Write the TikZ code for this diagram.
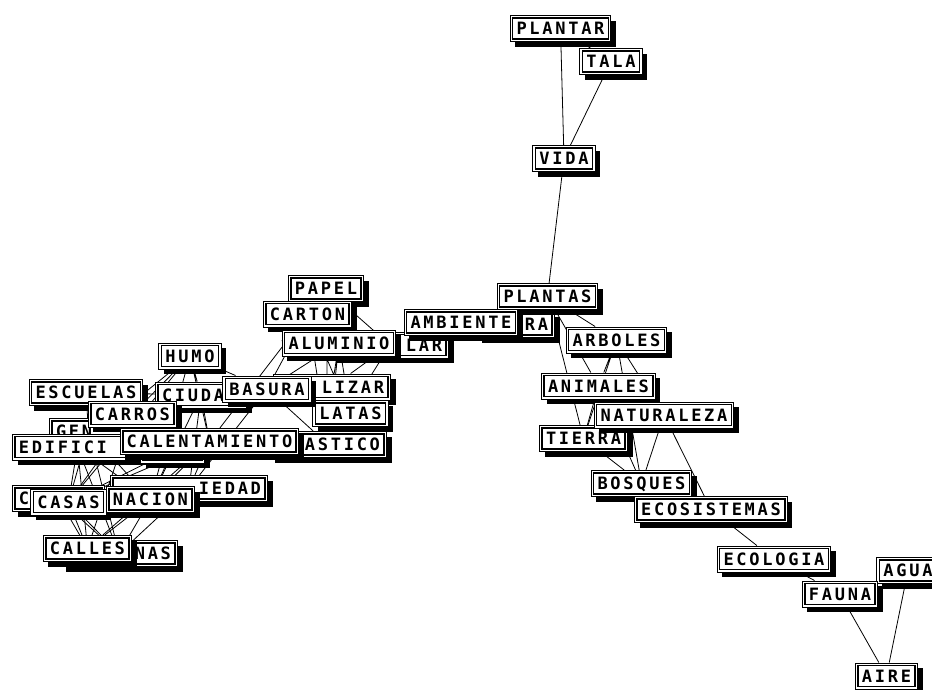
\documentclass[tikz,border=0pt]{standalone}
\usepackage{fontspec}
\newfontfamily\termfont[LetterSpace=16]{DejaVu Sans Mono}
\usetikzlibrary{shadows,backgrounds}

\tikzset{
  term/.style={draw=black, line width=1pt, fill=white,
    font=\termfont\bfseries\fontsize{17}{17}\selectfont,
    inner xsep=6.5pt, inner ysep=0pt, minimum height=26pt,
    text height=12.4pt, text depth=0pt,
    path picture={\draw[line width=1.5pt]
      ([shift={(2.6pt,-2.6pt)}]path picture bounding box.north west) rectangle
      ([shift={(-2.6pt,2.6pt)}]path picture bounding box.south east);},
    drop shadow={shadow xshift=5pt, shadow yshift=-5pt, opacity=1, fill=black}},
  lcut/.style={term, text width=#1, align=left},
  rcut/.style={term, text width=#1, align=right},
  link/.style={line width=0.8pt}
}

\begin{document}
\begin{tikzpicture}[x=1pt, y=-1pt]
\useasboundingbox (0,0) rectangle (932,689);
% --- nodi ---
\node[term] (plantar) at (560.5,28.5) {PLANTAR};
\node[term] (tala) at (611,61.5) {TALA};
\node[term] (vida) at (564,158.5) {VIDA};
\node[rcut=65pt] (flora) at (515.5,324.5) {RA};
\node[term] (plantas) at (547.5,296.5) {PLANTAS};
\node[rcut=104pt] (reciclar) at (390,345) {LAR};
\node[term] (ambiente) at (461,322.5) {AMBIENTE};
\node[term] (papel) at (326,288.5) {PAPEL};
\node[term] (carton) at (307.5,314) {CARTON};
\node[term] (aluminio) at (339,343) {ALUMINIO};
\node[rcut=104pt] (utilizar) at (332,387) {LIZAR};
\node[term] (latas) at (350.5,413.5) {LATAS};
\node[rcut=104pt] (plastico) at (328,444.5) {ASTICO};
\node[term] (humo) at (190,356) {HUMO};
\node[term] (escuelas) at (86,392.5) {ESCUELAS};
\node[lcut=78pt] (ciudad) at (201,395) {CIUDA};
\node[term] (basura) at (267,389) {BASURA};
\node[lcut=65pt] (gente) at (88.5,431.5) {GEN};
\node[term] (carros) at (132.5,414) {CARROS};
\node[lcut=117pt] (edificios) at (77.5,447) {EDIFICI};
\node[term, minimum width=64pt] (oculto) at (172.5,450) {};
\node[term] (calent) at (209.5,441.5) {CALENTAMIENTO};
\node[rcut=144pt] (sociedad) at (189,488.5) {IEDAD};
\node[lcut=79pt] (contam) at (58.5,498.5) {C};
\node[term] (casas) at (68.5,502) {CASAS};
\node[term] (nacion) at (150.5,499.5) {NACION};
\node[rcut=104pt] (personas) at (119,553.5) {NAS};
\node[term] (calles) at (87.5,548.5) {CALLES};
\node[term] (arboles) at (616.5,340) {ARBOLES};
\node[term] (animales) at (598.5,386) {ANIMALES};
\node[term] (tierra) at (583.5,438.5) {TIERRA};
\node[term] (naturaleza) at (664,415) {NATURALEZA};
\node[term] (bosques) at (641.5,483.5) {BOSQUES};
\node[term] (ecosist) at (711,509.5) {ECOSISTEMAS};
\node[term] (ecologia) at (774,559) {ECOLOGIA};
\node[term] (agua) at (908,570.5) {AGUA};
\node[term] (fauna) at (840,594) {FAUNA};
\node[term] (aire) at (886.5,676) {AIRE};
% --- archi ---
\begin{pgfonlayer}{background}
\draw[link] (plantar)--(tala) (plantar)--(vida) (tala)--(vida) (vida)--(plantas);
\draw[link] (plantas)--(arboles) (plantas)--(animales) (plantas)--(tierra) (flora)--(plantas) (ambiente)--(flora);
\draw[link] (arboles)--(animales) (arboles)--(tierra) (arboles)--(bosques) (arboles)--(naturaleza);
\draw[link] (animales)--(tierra) (animales)--(bosques) (naturaleza)--(bosques) (tierra)--(bosques);
\draw[link] (naturaleza)--(ecosist) (ecosist)--(ecologia) (ecologia)--(fauna) (fauna)--(aire) (agua)--(aire) (fauna)--(agua);
\draw[link] (papel)--(carton) (papel)--(reciclar) (carton)--(aluminio) (ambiente)--(reciclar) (aluminio)--(reciclar);
\draw[link] (aluminio)--(utilizar) (aluminio)--(latas) (aluminio)--(plastico) (carton)--(latas) (carton)--(plastico) (papel)--(plastico);
\draw[link] (reciclar)--(plastico) (reciclar)--(utilizar) (carton)--(basura) (aluminio)--(basura) (humo)--(basura);
\draw[link] (basura)--(sociedad) (basura)--(plastico) (carton)--(calent);
\draw[link] (humo)--(ciudad) (humo)--(carros) (humo)--(nacion) (humo)--(casas) (humo)--(calent) (humo)--(edificios);
\draw[link] (ciudad)--(sociedad) (ciudad)--(nacion) (ciudad)--(calent) (ciudad)--(escuelas);
\draw[link] (escuelas)--(gente) (escuelas)--(carros) (carros)--(casas) (carros)--(calles) (carros)--(calent);
\draw[link] (edificios)--(casas) (edificios)--(nacion) (edificios)--(calles) (edificios)--(personas);
\draw[link] (gente)--(casas) (gente)--(personas) (gente)--(nacion);
\draw[link] (calent)--(casas) (calent)--(nacion) (calent)--(sociedad) (calent)--(calles);
\draw[link] (oculto)--(casas) (oculto)--(nacion) (oculto)--(edificios);
\draw[link] (contam)--(calles) (contam)--(personas) (casas)--(calles) (casas)--(personas);
\draw[link] (nacion)--(calles) (nacion)--(personas) (sociedad)--(personas);
\end{pgfonlayer}
\end{tikzpicture}
\end{document}
